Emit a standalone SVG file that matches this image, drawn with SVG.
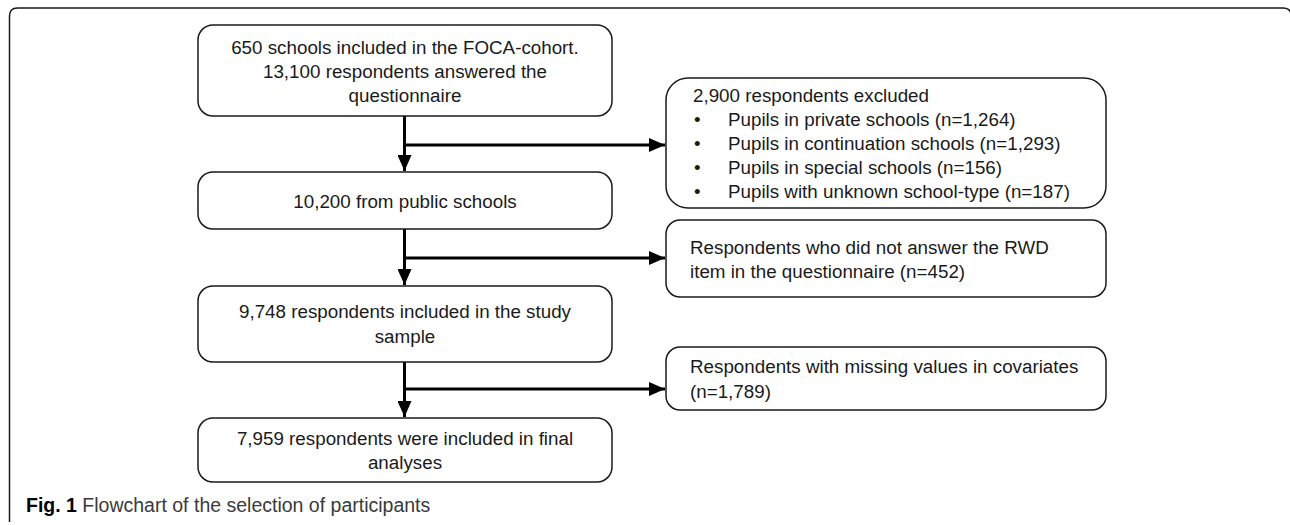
<svg xmlns="http://www.w3.org/2000/svg" width="1290" height="525" viewBox="0 0 1290 525">
<style>
.box{fill:#fff;stroke:#1a1a1a;stroke-width:1.5}
.t{font-family:"Liberation Sans",Arial,sans-serif;font-size:18.8px;fill:#1a1a1a}
.c{text-anchor:middle}
.con{stroke:#000;stroke-width:3;fill:none}
.cap{font-family:"Liberation Sans",Arial,sans-serif;font-size:19.5px;fill:#3a3a3a}
</style>
<defs>
<marker id="ah" markerUnits="userSpaceOnUse" markerWidth="16" markerHeight="14" refX="16" refY="7" orient="auto">
<path d="M0,0 L16,7 L0,14 z" fill="#000"/>
</marker>
</defs>
<path d="M9.5,522 V16 Q9.5,8 17.5,8 H1283 Q1290,8 1291,14" fill="none" stroke="#1a1a1a" stroke-width="1.5"/>
<g id="connectors">
<line class="con" x1="404.5" y1="116" x2="404.5" y2="171" marker-end="url(#ah)"/>
<line class="con" x1="404.5" y1="145" x2="665" y2="145" marker-end="url(#ah)"/>
<line class="con" x1="404.5" y1="229" x2="404.5" y2="285" marker-end="url(#ah)"/>
<line class="con" x1="404.5" y1="258" x2="665" y2="258" marker-end="url(#ah)"/>
<line class="con" x1="404.5" y1="362" x2="404.5" y2="417" marker-end="url(#ah)"/>
<line class="con" x1="404.5" y1="389" x2="665" y2="389" marker-end="url(#ah)"/>
</g>
<g id="n1">
<rect class="box" x="198" y="25" width="414" height="91" rx="15"/>
<text class="t c" x="405" y="54">650 schools included in the FOCA-cohort.</text>
<text class="t c" x="405" y="78">13,100 respondents answered the</text>
<text class="t c" x="405" y="102">questionnaire</text>
</g>
<g id="n2">
<rect class="box" x="198" y="172" width="414" height="57" rx="15"/>
<text class="t c" x="405" y="208">10,200 from public schools</text>
</g>
<g id="n3">
<rect class="box" x="198" y="286" width="414" height="76" rx="15"/>
<text class="t c" x="405" y="318">9,748 respondents included in the study</text>
<text class="t c" x="405" y="343">sample</text>
</g>
<g id="n4">
<rect class="box" x="198" y="418" width="414" height="64" rx="15"/>
<text class="t c" x="405" y="445">7,959 respondents were included in final</text>
<text class="t c" x="405" y="469">analyses</text>
</g>
<g id="e1">
<rect class="box" x="666" y="78" width="440" height="130" rx="22"/>
<text class="t" x="693" y="102">2,900 respondents excluded</text>
<text class="t" x="694" y="126">•</text><text class="t" x="728" y="126">Pupils in private schools (n=1,264)</text>
<text class="t" x="694" y="150">•</text><text class="t" x="728" y="150">Pupils in continuation schools (n=1,293)</text>
<text class="t" x="694" y="174">•</text><text class="t" x="728" y="174">Pupils in special schools (n=156)</text>
<text class="t" x="694" y="198">•</text><text class="t" x="728" y="198">Pupils with unknown school-type (n=187)</text>
</g>
<g id="e2">
<rect class="box" x="666" y="220" width="440" height="77" rx="14"/>
<text class="t" x="690" y="254">Respondents who did not answer the RWD</text>
<text class="t" x="690" y="278">item in the questionnaire (n=452)</text>
</g>
<g id="e3">
<rect class="box" x="666" y="347" width="440" height="63" rx="14"/>
<text class="t" x="690" y="373">Respondents with missing values in covariates</text>
<text class="t" x="690" y="398">(n=1,789)</text>
</g>
<text class="cap" x="26" y="512"><tspan font-weight="bold" fill="#000">Fig. 1</tspan> Flowchart of the selection of participants</text>
</svg>
